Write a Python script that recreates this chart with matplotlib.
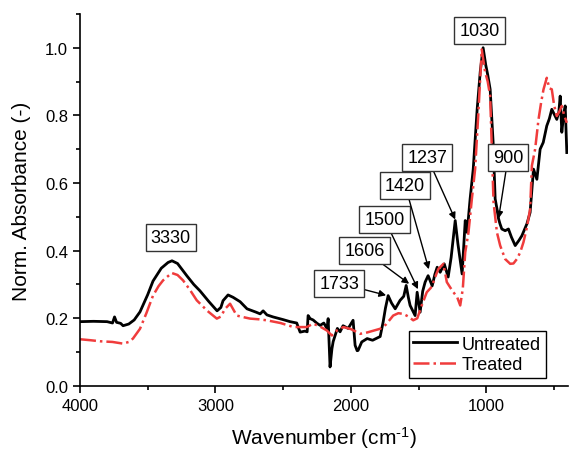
import matplotlib.pyplot as plt
from matplotlib.ticker import MultipleLocator

plt.rcParams['font.family'] = ['Liberation Sans', 'DejaVu Sans']
plt.rcParams['mathtext.fontset'] = 'custom'
plt.rcParams['mathtext.rm'] = 'Liberation Sans'
plt.rcParams['mathtext.it'] = 'Liberation Sans'

# Untreated spectrum
wn_untreated = [4000, 3900, 3800, 3760, 3745, 3730, 3700, 3682, 3640, 3600, 3557, 3500,
                3461, 3400, 3350, 3321, 3280, 3210, 3160, 3114, 3050, 2988, 2960, 2944,
                2907, 2870, 2818, 2767, 2700, 2670, 2648, 2620, 2575, 2500, 2449, 2400,
                2375, 2340, 2323, 2316, 2301, 2279, 2250, 2227, 2200, 2176, 2168, 2154,
                2140, 2131, 2100, 2080, 2058, 2020, 1984, 1969, 1954, 1947, 1920, 1880,
                1840, 1784, 1762, 1745, 1725, 1700, 1673, 1637, 1610, 1592, 1575, 1563,
                1526, 1511, 1489, 1470, 1452, 1430, 1400, 1380, 1363, 1341, 1311, 1282,
                1260, 1230, 1210, 1179, 1156, 1142, 1120, 1097, 1068, 1045, 1024, 1005,
                990, 972, 950, 935, 920, 911, 900, 886, 861, 837, 815, 787, 760, 738,
                700, 677, 652, 627, 603, 580, 554, 535, 517, 495, 480, 465, 455, 443,
                430, 418, 410, 406]
abs_untreated = [0.190, 0.191, 0.190, 0.186, 0.204, 0.188, 0.185, 0.178, 0.183, 0.195, 0.219, 0.270,
                 0.310, 0.348, 0.365, 0.370, 0.362, 0.325, 0.300, 0.281, 0.250, 0.222, 0.232, 0.252,
                 0.269, 0.262, 0.249, 0.228, 0.218, 0.213, 0.222, 0.210, 0.204, 0.196, 0.190, 0.186,
                 0.159, 0.162, 0.160, 0.208, 0.199, 0.195, 0.185, 0.179, 0.186, 0.169, 0.199, 0.056,
                 0.110, 0.131, 0.170, 0.160, 0.178, 0.170, 0.194, 0.120, 0.104, 0.105, 0.130, 0.140,
                 0.135, 0.146, 0.189, 0.230, 0.267, 0.245, 0.228, 0.253, 0.265, 0.297, 0.260, 0.238,
                 0.208, 0.277, 0.218, 0.280, 0.307, 0.326, 0.296, 0.330, 0.351, 0.336, 0.361, 0.322,
                 0.380, 0.489, 0.420, 0.331, 0.489, 0.454, 0.553, 0.641, 0.818, 0.930, 1.000, 0.950,
                 0.920, 0.877, 0.720, 0.553, 0.520, 0.496, 0.480, 0.464, 0.459, 0.464, 0.440, 0.415,
                 0.430, 0.444, 0.480, 0.513, 0.641, 0.611, 0.700, 0.720, 0.769, 0.790, 0.818, 0.800,
                 0.788, 0.810, 0.857, 0.750, 0.800, 0.828, 0.740, 0.690]

# Treated spectrum
wn_treated = [4000, 3920, 3852, 3760, 3682, 3640, 3609, 3557, 3510, 3461, 3420, 3387, 3323,
              3280, 3239, 3190, 3138, 3060, 2990, 2960, 2929, 2892, 2843, 2790, 2744, 2680,
              2621, 2520, 2424, 2326, 2279, 2230, 2178, 2141, 2100, 2055, 2000, 1932, 1880,
              1784, 1740, 1688, 1650, 1614, 1575, 1540, 1510, 1477, 1440, 1410, 1391, 1370,
              1354, 1317, 1292, 1265, 1243, 1215, 1193, 1174, 1156, 1132, 1107, 1083, 1060,
              1034, 1010, 990, 972, 947, 922, 898, 861, 824, 800, 775, 750, 726, 700, 677,
              664, 640, 615, 595, 578, 554, 535, 517, 500, 480, 460, 443, 425, 406]
abs_treated = [0.138, 0.135, 0.132, 0.130, 0.125, 0.130, 0.140, 0.169, 0.215, 0.267, 0.295, 0.312, 0.334,
               0.328, 0.312, 0.285, 0.253, 0.222, 0.199, 0.205, 0.228, 0.243, 0.208, 0.203, 0.199, 0.197,
               0.194, 0.186, 0.174, 0.174, 0.184, 0.176, 0.164, 0.149, 0.165, 0.174, 0.168, 0.154, 0.158,
               0.169, 0.182, 0.208, 0.215, 0.213, 0.205, 0.194, 0.200, 0.238, 0.277, 0.290, 0.307, 0.330,
               0.346, 0.361, 0.307, 0.290, 0.277, 0.262, 0.238, 0.287, 0.395, 0.454, 0.553, 0.641, 0.800,
               0.995, 0.930, 0.900, 0.857, 0.543, 0.454, 0.415, 0.375, 0.361, 0.362, 0.375, 0.395, 0.425,
               0.470, 0.523, 0.651, 0.700, 0.788, 0.840, 0.877, 0.911, 0.880, 0.877, 0.830, 0.798, 0.812,
               0.828, 0.800, 0.778]

# peak labels: text, text position (wavenumber, absorbance), arrow tip (or None)
peak_labels = ['3330', '1030', '1733', '1606', '1500', '1420', '1237', '900']
label_pos = [(3330, 0.438), (1050, 1.05), (2085, 0.304), (1900, 0.400), (1752, 0.493),
             (1600, 0.593), (1435, 0.675), (840, 0.675)]
arrow_tip = [None, None, (1740, 0.268), (1570, 0.302), (1505, 0.286), (1425, 0.345),
             (1230, 0.492), (910, 0.495)]

fig = plt.figure(figsize=(5.69, 4.52), dpi=100)
ax = fig.add_axes([0.1406, 0.144, 0.857, 0.823])

ax.plot(wn_untreated, abs_untreated, color='black', lw=2.0, label='Untreated')
ax.plot(wn_treated, abs_treated, color='#f03c3c', lw=1.8, ls='-.', label='Treated')

box = dict(boxstyle='square,pad=0.28', fc='white', ec='#333333', lw=1.0)
for txt, pos, tip in zip(peak_labels, label_pos, arrow_tip):
    if tip is None:
        ax.text(pos[0], pos[1], txt, fontsize=13, ha='center', va='center', bbox=box)
    else:
        ax.annotate(txt, xy=tip, xytext=pos, fontsize=13, ha='center', va='center', bbox=box,
                    arrowprops=dict(arrowstyle='-|>', color='black', lw=1.0,
                                    mutation_scale=10, shrinkA=0, shrinkB=0))

ax.set_xlim(4000, 400)
ax.set_ylim(0, 1.1)
ax.xaxis.set_major_locator(MultipleLocator(1000))
ax.xaxis.set_minor_locator(MultipleLocator(500))
ax.yaxis.set_major_locator(MultipleLocator(0.2))
ax.yaxis.set_minor_locator(MultipleLocator(0.1))
ax.yaxis.set_major_formatter(plt.FuncFormatter(lambda v, p: f'{v:.1f}'))

for side in ['top', 'right']:
    ax.spines[side].set_visible(False)
for side in ['left', 'bottom']:
    ax.spines[side].set_linewidth(1.2)
ax.tick_params(which='major', direction='out', length=5, width=1.2, labelsize=12)
ax.tick_params(which='minor', direction='out', length=3, width=1.2)

ax.set_xlabel('Wavenumber (cm$^{\\text{-}1}$)', fontsize=15, labelpad=8)
ax.set_ylabel('Norm. Absorbance (-)', fontsize=15, labelpad=10)

leg = ax.legend(loc='lower right', bbox_to_anchor=(0.955, 0.022), borderaxespad=0, fontsize=13,
                frameon=True, fancybox=False, edgecolor='black', framealpha=1,
                handlelength=2.4, borderpad=0.25, labelspacing=0.2, handletextpad=0.3)
leg.get_frame().set_linewidth(1.0)

fig.savefig('out.png', dpi=100)
